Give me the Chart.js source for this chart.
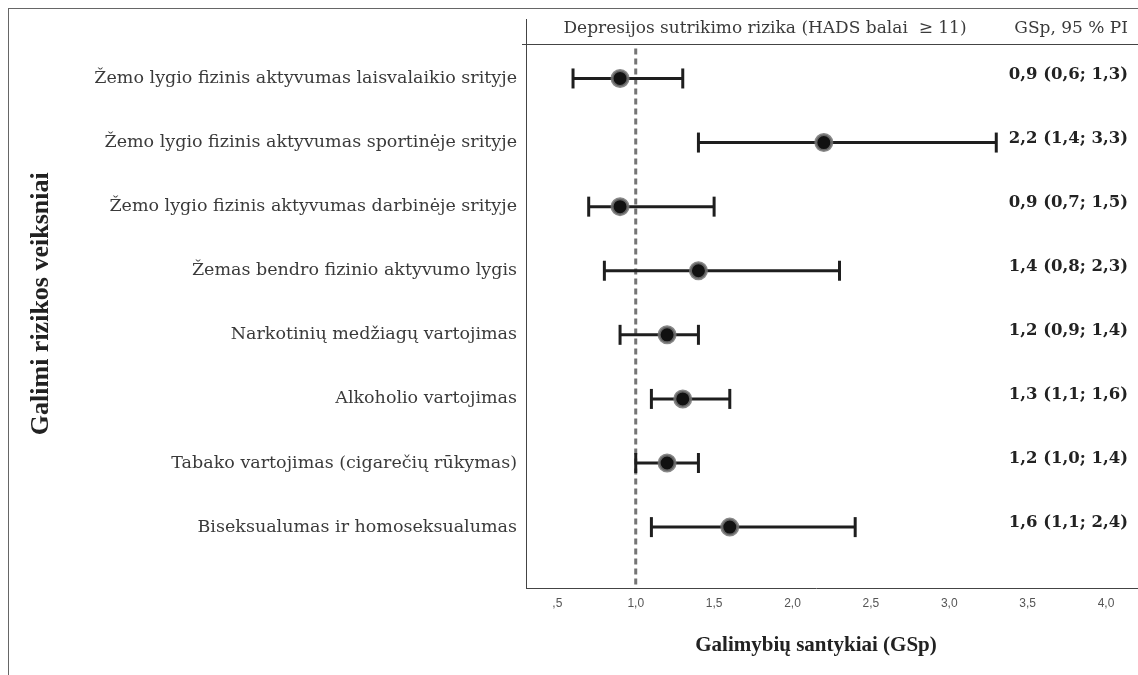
<!DOCTYPE html>
<html><head><meta charset="utf-8">
<script src="https://cdn.jsdelivr.net/npm/chart.js@4.4.1/dist/chart.umd.min.js"></script>
<style>
html,body{margin:0;padding:0;background:#fff;}
#wrap{position:relative;width:1138px;height:675px;overflow:hidden;}
#frame{position:absolute;left:8px;top:8px;width:1140px;height:680px;border-left:1px solid #666;border-top:1px solid #666;}
canvas{position:absolute;left:0;top:0;}
</style></head><body>
<div id="wrap"><div id="frame"></div><canvas id="c" width="1138" height="675"></canvas></div>
<script>
const CATEGORIES = [
  'Žemo lygio fizinis aktyvumas laisvalaikio srityje',
  'Žemo lygio fizinis aktyvumas sportinėje srityje',
  'Žemo lygio fizinis aktyvumas darbinėje srityje',
  'Žemas bendro fizinio aktyvumo lygis',
  'Narkotinių medžiagų vartojimas',
  'Alkoholio vartojimas',
  'Tabako vartojimas (cigarečių rūkymas)',
  'Biseksualumas ir homoseksualumas'
];
const ODDS    = [0.9, 2.2, 0.9, 1.4, 1.2, 1.3, 1.2, 1.6];
const CI_LOW  = [0.6, 1.4, 0.7, 0.8, 0.9, 1.1, 1.0, 1.1];
const CI_HIGH = [1.3, 3.3, 1.5, 2.3, 1.4, 1.6, 1.4, 2.4];
const X_TICKS = [0.5, 1.0, 1.5, 2.0, 2.5, 3.0, 3.5, 4.0];
const REFERENCE = 1.0;
const HEADER_LEFT = 'Depresijos sutrikimo rizika (HADS balai  ≥ 11)';
const HEADER_RIGHT = 'GSp, 95 % PI';
const X_TITLE = 'Galimybių santykiai (GSp)';
const Y_TITLE = 'Galimi rizikos veiksniai';

const fmt = v => v.toFixed(1).replace('.', ',');
const fmtTick = v => { let s = fmt(v); if (s.startsWith('0')) s = s.slice(1); return s; };

const pointsDS = {
  data: ODDS.map((v, i) => ({x: v, y: i + 1})),
  pointRadius: 8, pointHoverRadius: 8,
  pointBackgroundColor: '#111',
  pointBorderColor: 'rgba(115,115,115,0.85)',
  pointBorderWidth: 3,
  showLine: false, order: 0, clip: false
};
const barDS = ODDS.map((_, i) => ({
  data: [{x: CI_LOW[i], y: i + 1}, {x: CI_HIGH[i], y: i + 1}],
  showLine: true,
  borderColor: '#1e1e1e', borderWidth: 3,
  pointStyle: 'line', pointRotation: 90, pointRadius: 10, pointHoverRadius: 10,
  pointBorderColor: '#1e1e1e', pointBorderWidth: 3,
  order: 2, clip: false
}));

const decor = {
  id: 'decor',
  beforeDatasetsDraw(chart) {
    const {ctx, chartArea: a, scales: {x}} = chart;
    const headerY = Math.round(a.top + 24) + 0.5;
    ctx.save();
    ctx.strokeStyle = '#444'; ctx.lineWidth = 1;
    ctx.beginPath(); ctx.moveTo(a.left - 4, headerY); ctx.lineTo(chart.width, headerY); ctx.stroke();
    ctx.beginPath(); ctx.moveTo(a.right - 1, Math.round(a.bottom) + 0.5); ctx.lineTo(chart.width, Math.round(a.bottom) + 0.5); ctx.stroke();
    const rx = x.getPixelForValue(REFERENCE);
    ctx.strokeStyle = '#747474'; ctx.lineWidth = 3; ctx.setLineDash([6, 4]);
    ctx.beginPath(); ctx.moveTo(rx, headerY + 4); ctx.lineTo(rx, a.bottom); ctx.stroke();
    ctx.restore();
  },
  afterDatasetsDraw(chart) {
    const {ctx, chartArea: a, scales: {y}} = chart;
    ctx.save();
    ctx.fillStyle = '#3a3a3a';
    ctx.textBaseline = 'middle';
    ctx.font = '17px "DejaVu Serif"';
    ctx.textAlign = 'center';
    ctx.fillText(HEADER_LEFT, 765, a.top + 9);
    ctx.textAlign = 'right';
    ctx.fillText(HEADER_RIGHT, chart.width - 10, a.top + 9);
    ctx.fillStyle = '#222';
    ctx.font = 'bold 16.5px "DejaVu Serif"';
    ODDS.forEach((v, i) => {
      const t = fmt(v) + ' (' + fmt(CI_LOW[i]) + '; ' + fmt(CI_HIGH[i]) + ')';
      ctx.fillText(t, chart.width - 10, y.getPixelForValue(i + 1) - 4);
    });
    ctx.restore();
  }
};

new Chart(document.getElementById('c'), {
  type: 'scatter',
  data: {datasets: [pointsDS, ...barDS]},
  options: {
    responsive: false, animation: false, devicePixelRatio: 1,
    layout: {padding: {top: 19, right: 32, left: 0, bottom: 0}},
    plugins: {legend: {display: false}, tooltip: {enabled: false}},
    scales: {
      x: {
        type: 'linear', min: 0.3, max: 4.0,
        grid: {display: false, drawTicks: false},
        border: {display: true, color: '#444', width: 1},
        afterBuildTicks(s) { s.ticks = X_TICKS.map(v => ({value: v})); },
        ticks: {callback: v => fmtTick(v), color: '#555', font: {family: 'Liberation Sans', size: 12}, padding: 8, maxRotation: 0, autoSkip: false},
        afterFit(s) { s.height = 87; },
        title: {display: true, text: X_TITLE, color: '#222', font: {family: 'Liberation Serif', size: 21, weight: 'bold'}, padding: {top: 0, bottom: 17}}
      },
      y: {
        type: 'linear', reverse: true, min: 0.08, max: 8.95,
        grid: {display: false, drawTicks: false},
        border: {display: true, color: '#444', width: 1},
        afterBuildTicks(s) { s.ticks = CATEGORIES.map((_, i) => ({value: i + 1})); },
        ticks: {callback: v => CATEGORIES[v - 1], color: '#3a3a3a', font: {family: 'DejaVu Serif', size: 17.5}, padding: 9, autoSkip: false},
        afterFit(s) { s.width = 526; },
        title: {display: true, text: Y_TITLE, color: '#222', font: {family: 'Liberation Serif', size: 26, weight: 'bold'}, padding: {top: 26, bottom: 0}}
      }
    }
  },
  plugins: [decor]
});
</script>
</body></html>
